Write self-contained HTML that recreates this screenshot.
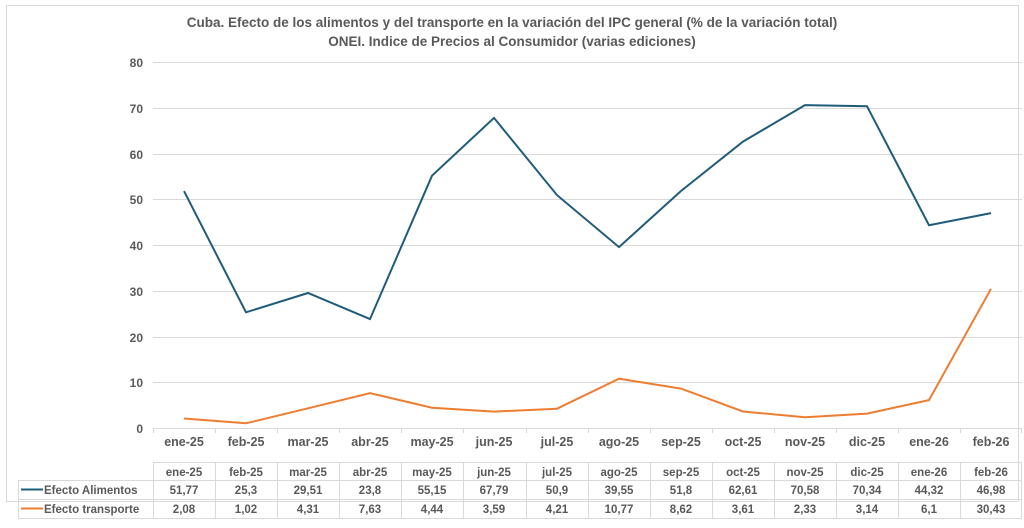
<!DOCTYPE html>
<html><head><meta charset="utf-8"><style>
body{margin:0;background:#fff}
svg text{font-family:"Liberation Sans",sans-serif;font-weight:bold;fill:#595959}
</style></head><body>
<svg width="1024" height="523" xmlns="http://www.w3.org/2000/svg">
<rect x="6.5" y="5.5" width="1012" height="496" fill="#fff" stroke="#d9d9d9"/>
<text x="512" y="27" font-size="13.5" text-anchor="middle">Cuba. Efecto de los alimentos y del transporte en la variación del IPC general (%  de la variación total)</text>
<text x="512" y="46" font-size="13.5" text-anchor="middle">ONEI. Indice de Precios al Consumidor (varias ediciones)</text>
<g stroke="#d9d9d9" stroke-width="1">
<line x1="153" x2="1022" y1="62.5" y2="62.5"/><line x1="153" x2="1022" y1="108.5" y2="108.5"/>
<line x1="153" x2="1022" y1="154.5" y2="154.5"/><line x1="153" x2="1022" y1="199.5" y2="199.5"/>
<line x1="153" x2="1022" y1="245.5" y2="245.5"/><line x1="153" x2="1022" y1="291.5" y2="291.5"/>
<line x1="153" x2="1022" y1="337.5" y2="337.5"/><line x1="153" x2="1022" y1="382.5" y2="382.5"/>
<line x1="153" x2="1022" y1="428.5" y2="428.5"/>
</g>
<g font-size="12" text-anchor="end">
<text x="143" y="67">80</text><text x="143" y="113">70</text><text x="143" y="159">60</text><text x="143" y="204">50</text><text x="143" y="250">40</text><text x="143" y="296">30</text><text x="143" y="342">20</text><text x="143" y="387">10</text><text x="143" y="433">0</text>
</g>
<g stroke="#d9d9d9">
<path d="M153.5 428v5M215.5 428v5M277.5 428v5M339.5 428v5M401.5 428v5M463.5 428v5M526.5 428v5M588.5 428v5M650.5 428v5M712.5 428v5M774.5 428v5M836.5 428v5M898.5 428v5M960.5 428v5M1021.5 428v5"/>
<path d="M153.5 462v56M215.5 462v56M277.5 462v56M339.5 462v56M401.5 462v56M463.5 462v56M526.5 462v56M588.5 462v56M650.5 462v56M712.5 462v56M774.5 462v56M836.5 462v56M898.5 462v56M960.5 462v56M1021.5 462v56"/>
<line x1="153" y1="462.5" x2="1022" y2="462.5"/>
<line x1="18" y1="480.5" x2="1022" y2="480.5"/><line x1="18" y1="499.5" x2="1022" y2="499.5"/><line x1="18" y1="518.5" x2="1022" y2="518.5"/>
<line x1="18.5" y1="480" x2="18.5" y2="518"/>
</g>
<polyline fill="none" stroke="#1f5c7a" stroke-width="2" points="184,191.1 246,312.3 308,293 370,319.1 432,175.7 494,117.9 557,195.1 619,247.1 681,191 743,141.6 805,105.1 867,106.2 929,225.2 991,213.1"/>
<polyline fill="none" stroke="#ed7d31" stroke-width="2" points="184,418.5 246,423.3 308,408.3 370,393.1 432,407.7 494,411.6 557,408.7 619,378.7 681,388.6 743,411.5 805,417.3 867,413.6 929,400.1 991,288.8"/>
<g font-size="12.5" text-anchor="middle">
<text x="184" y="446">ene-25</text><text x="246" y="446">feb-25</text><text x="308" y="446">mar-25</text><text x="370" y="446">abr-25</text><text x="432" y="446">may-25</text><text x="494" y="446">jun-25</text><text x="557" y="446">jul-25</text><text x="619" y="446">ago-25</text><text x="681" y="446">sep-25</text><text x="743" y="446">oct-25</text><text x="805" y="446">nov-25</text><text x="867" y="446">dic-25</text><text x="929" y="446">ene-26</text><text x="991" y="446">feb-26</text>
</g>
<g font-size="11.5" text-anchor="middle">
<text x="184" y="476">ene-25</text><text x="246" y="476">feb-25</text><text x="308" y="476">mar-25</text><text x="370" y="476">abr-25</text><text x="432" y="476">may-25</text><text x="494" y="476">jun-25</text><text x="557" y="476">jul-25</text><text x="619" y="476">ago-25</text><text x="681" y="476">sep-25</text><text x="743" y="476">oct-25</text><text x="805" y="476">nov-25</text><text x="867" y="476">dic-25</text><text x="929" y="476">ene-26</text><text x="991" y="476">feb-26</text>
<text x="184" y="494">51,77</text><text x="246" y="494">25,3</text><text x="308" y="494">29,51</text><text x="370" y="494">23,8</text><text x="432" y="494">55,15</text><text x="494" y="494">67,79</text><text x="557" y="494">50,9</text><text x="619" y="494">39,55</text><text x="681" y="494">51,8</text><text x="743" y="494">62,61</text><text x="805" y="494">70,58</text><text x="867" y="494">70,34</text><text x="929" y="494">44,32</text><text x="991" y="494">46,98</text>
<text x="184" y="513">2,08</text><text x="246" y="513">1,02</text><text x="308" y="513">4,31</text><text x="370" y="513">7,63</text><text x="432" y="513">4,44</text><text x="494" y="513">3,59</text><text x="557" y="513">4,21</text><text x="619" y="513">10,77</text><text x="681" y="513">8,62</text><text x="743" y="513">3,61</text><text x="805" y="513">2,33</text><text x="867" y="513">3,14</text><text x="929" y="513">6,1</text><text x="991" y="513">30,43</text>
</g>
<line x1="21" y1="489.5" x2="43" y2="489.5" stroke="#1f5c7a" stroke-width="2"/>
<line x1="21" y1="508.5" x2="43" y2="508.5" stroke="#ed7d31" stroke-width="2"/>
<text x="44" y="494" font-size="11.5">Efecto Alimentos</text>
<text x="44" y="513" font-size="11.5">Efecto transporte</text>
</svg>
</body></html>
